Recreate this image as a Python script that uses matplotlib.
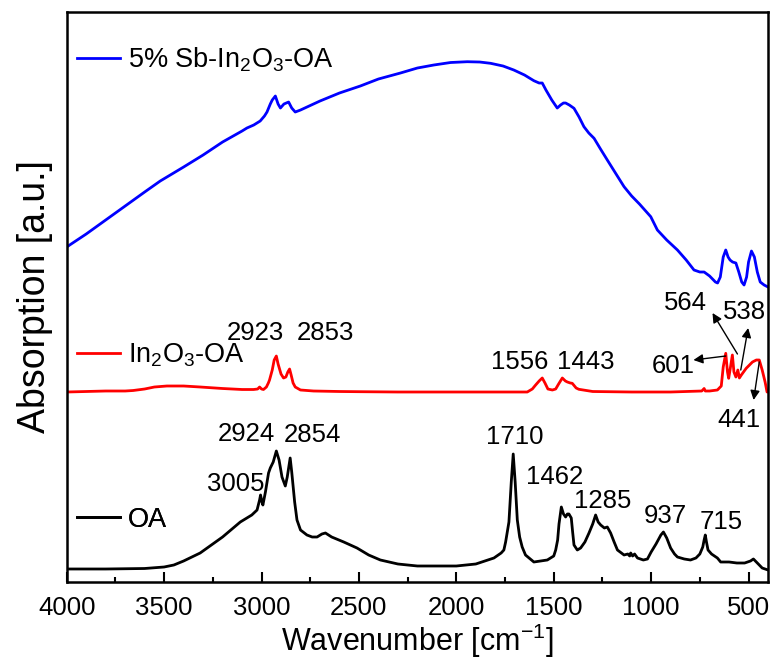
import matplotlib
matplotlib.use('Agg')
import matplotlib.pyplot as plt
from matplotlib.ticker import MultipleLocator

plt.rcParams['font.family'] = ['Liberation Sans', 'DejaVu Sans']
plt.rcParams['mathtext.default'] = 'regular'

# OA (black) spectrum, wavenumber [cm-1] and absorption (a.u., offset)
oa_wn = [4000, 3800, 3600, 3500, 3450, 3400, 3315, 3200, 3109, 3050, 3023, 3010,
         3005, 2998, 2993, 2980, 2964, 2955, 2940, 2924, 2910, 2895, 2878, 2868,
         2853, 2845, 2830, 2818, 2800, 2767, 2740, 2715, 2690, 2672, 2640, 2578,
         2510, 2450, 2390, 2300, 2200, 2116, 2000, 1900, 1807, 1770, 1756, 1747,
         1730, 1718, 1708, 1698, 1687, 1675, 1662, 1645, 1602, 1533, 1500, 1490,
         1480, 1473, 1461, 1450, 1439, 1430, 1422, 1410, 1403, 1396, 1379, 1362,
         1340, 1319, 1300, 1285, 1272, 1259, 1240, 1225, 1208, 1190, 1173, 1139,
         1120, 1110, 1105, 1095, 1085, 1070, 1040, 1019, 1000, 975, 950, 937,
         920, 900, 880, 865, 830, 798, 770, 750, 735, 728, 722, 716, 708, 690,
         660, 643, 600, 560, 520, 490, 475, 460, 430, 400]
oa_abs = [13, 13, 13.5, 15, 17, 21, 29, 45, 60, 67, 72, 82,
          87, 80, 77, 90, 109, 114, 120, 131, 122, 105, 96, 105,
          124, 110, 80, 62, 52, 47, 45, 45, 48, 49, 45, 40,
          34, 27, 22, 18, 16, 16, 16, 18, 24, 29, 32, 40,
          60, 100, 128, 100, 62, 45, 35, 27, 20, 22, 26, 32,
          42, 58, 75, 68, 65, 68, 68, 64, 50, 37, 32, 34,
          40, 49, 58, 67, 60, 57, 54, 55, 49, 40, 32, 27,
          28, 26, 29, 26, 28, 24, 22, 23, 30, 38, 47, 50,
          44, 34, 28, 25, 23, 22, 24, 28, 35, 42, 47, 40, 32, 28,
          24, 20, 20, 19, 19, 21, 23, 20, 14, 12]

# In2O3-OA (red) spectrum
in_wn = [4000, 3900, 3800, 3700, 3659, 3600, 3550, 3486, 3400, 3315, 3200, 3100,
         3041, 3020, 3010, 3000, 2990, 2975, 2965, 2959, 2945, 2935, 2924, 2915,
         2900, 2887, 2875, 2865, 2856, 2848, 2838, 2827, 2800, 2733, 2600, 2493,
         2300, 2000, 1800, 1700, 1636, 1610, 1593, 1575, 1559, 1545, 1530, 1507,
         1490, 1475, 1456, 1440, 1430, 1415, 1405, 1385, 1371, 1300, 1100, 900,
         740, 728, 722, 700, 660, 640, 630, 617, 608, 602, 595, 583, 575, 565,
         555, 547, 537, 512, 480, 460, 445, 430, 415, 405, 400]
in_abs = [190, 190.5, 191, 191, 191.5, 193, 195, 196, 196, 195, 193.5, 192.5,
          192.5, 193, 195, 193, 192.5, 195, 199, 202, 212, 222, 226, 218,
          208, 204, 205, 210, 213, 207, 199, 195, 192, 191, 190.5, 190.3,
          190, 190, 190, 190, 190, 193, 197, 201, 204, 199, 193, 192,
          193, 198, 204, 201, 200, 199, 198.7, 194, 192.7, 190.5, 190, 190,
          191, 193.5, 191, 191, 192, 196, 215, 228.7, 210, 203.7, 212, 227, 210, 205,
          212, 204, 207, 213.7, 220, 222, 222, 212, 200, 190, 190]

# 5% Sb-In2O3-OA (blue) spectrum
sb_wn = [4000, 3985, 3900, 3800, 3700, 3600, 3520, 3400, 3300, 3200, 3100, 3075,
         3040, 3007, 2985, 2972, 2955, 2945, 2929, 2915, 2903, 2885, 2861, 2845,
         2827, 2800, 2700, 2600, 2493, 2400, 2287, 2200, 2116, 2030, 1944, 1880,
         1824, 1760, 1705, 1650, 1602, 1575, 1559, 1540, 1510, 1482, 1465, 1450,
         1439, 1420, 1396, 1370, 1345, 1320, 1293, 1260, 1225, 1180, 1139, 1100,
         1060, 1002, 968, 920, 865, 820, 780, 750, 728, 700, 670, 659, 645, 630,
         617, 605, 595, 582, 565, 550, 535, 523, 510, 500, 485, 470, 455, 440,
         420, 400]
sb_abs = [335, 337, 348, 362, 376, 390, 401, 415, 427, 440, 451, 454,
          457, 461, 466, 470, 478, 482, 486, 478, 474, 478, 480, 474,
          470, 472, 481, 489, 496, 503, 509, 514, 517, 519.5, 520.3, 520,
          518.7, 516, 512, 507, 501.3, 499, 499, 492, 482, 474, 477, 479,
          479, 477, 473.7, 465, 455.3, 449, 443.7, 433, 422, 408, 395.3, 386,
          378, 365.3, 352, 342, 332, 322, 312, 310, 310, 306, 300, 299, 305, 325,
          332, 325, 322, 320, 319, 310, 300, 297, 305, 320, 331, 325, 310, 300,
          297, 295]

# peak labels: text, x (wavenumber), y
peak_labels = [('2923', 3032, 249), ('2853', 2672, 249),
               ('1556', 1675, 220), ('1443', 1336, 220),
               ('3005', 3131, 98), ('2924', 3078, 148), ('2854', 2739, 147),
               ('1710', 1700, 145), ('1462', 1495, 105), ('1285', 1250, 81),
               ('937', 928, 66), ('715', 642, 60)]
# arrowed labels: text, text position, arrow start (on peak), arrow end
arrow_labels = [('601', (887, 216), (617, 226), (783, 222)),
                ('564', (825, 279), (557, 228), (685, 269)),
                ('538', (519, 270), (540, 212), (502, 254)),
                ('441', (550, 162), (445, 220), (474, 182))]


def main():
    fig = plt.figure(figsize=(7.75, 6.64), dpi=100)
    ax = fig.add_axes([0.0861, 0.1235, 0.9049, 0.8584])

    lw = 2.0
    l_sb, = ax.plot(sb_wn, sb_abs, color='#0000ff', lw=lw)
    l_in, = ax.plot(in_wn, in_abs, color='#ff0000', lw=lw)
    l_oa, = ax.plot(oa_wn, oa_abs, color='black', lw=lw)

    ax.set_xlim(4000, 400)
    ax.set_ylim(0, 570)
    ax.xaxis.set_major_locator(MultipleLocator(500))
    ax.xaxis.set_minor_locator(MultipleLocator(250))
    ax.tick_params(axis='x', which='major', direction='in', length=7.2,
                   width=1.5, labelsize=18.5, pad=10)
    ax.tick_params(axis='x', which='minor', direction='in', length=3.6, width=1.5)
    ax.set_yticks([])
    for s in ax.spines.values():
        s.set_linewidth(1.8)

    ax.set_xlabel('Wavenumber [cm$^{-1}$]', fontsize=22, labelpad=1)
    ax.set_ylabel('Absorption [a.u.]', fontsize=27, labelpad=10)

    for handle, name, yy in [(l_sb, '5% Sb-In$_2$O$_3$-OA', 0.916),
                             (l_in, 'In$_2$O$_3$-OA', 0.398),
                             (l_oa, 'OA', 0.109)]:
        leg = ax.legend([handle], [name], loc='center left',
                        bbox_to_anchor=(0.0143, yy), frameon=False,
                        fontsize=19.5, handlelength=1.6, handletextpad=0.3,
                        borderpad=0, borderaxespad=0)
        ax.add_artist(leg)

    for txt, x, y in peak_labels:
        ax.text(x, y, txt, fontsize=18.5, ha='center', va='center')

    for txt, tpos, start, end in arrow_labels:
        ax.text(tpos[0], tpos[1], txt, fontsize=18.5, ha='center', va='center')
        ax.annotate('', xy=end, xytext=start,
                    arrowprops=dict(arrowstyle='-|>', color='black', lw=1,
                                    mutation_scale=14, shrinkA=0, shrinkB=0))

    fig.savefig('out.png', dpi=100)


if __name__ == '__main__':
    main()
